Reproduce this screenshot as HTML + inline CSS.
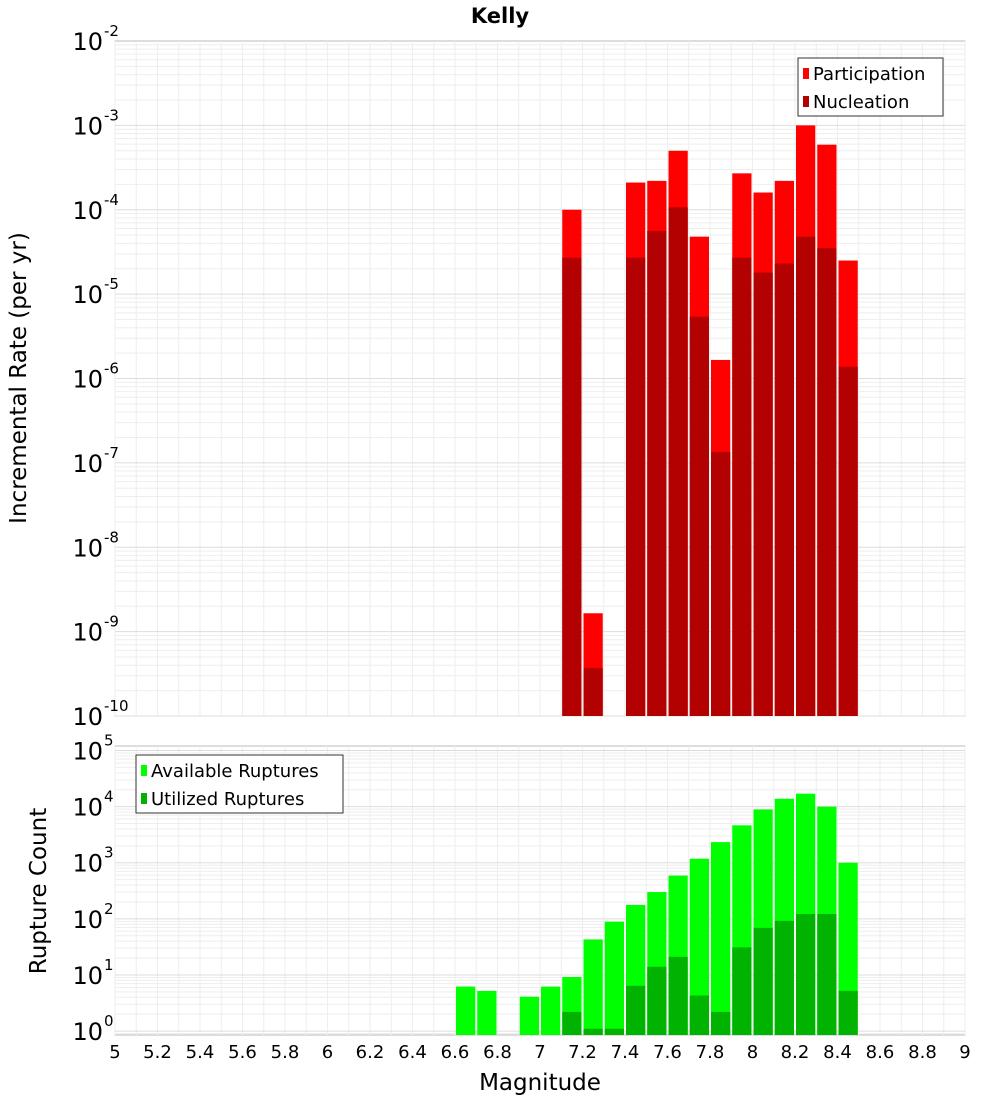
<!DOCTYPE html>
<html><head><meta charset="utf-8"><style>
body{margin:0;background:#fff}
svg text{font-family:"DejaVu Sans","Liberation Sans",sans-serif}
</style></head><body>
<svg id="chart" width="1000" height="1100" xmlns="http://www.w3.org/2000/svg">
<text x="500" y="23" text-anchor="middle" font-size="21" font-weight="bold">Kelly</text>
<g id="topPanel"></g><g id="botPanel"></g>
</svg>
<script>
const bins=[7.15,7.25,7.45,7.55,7.65,7.75,7.85,7.95,8.05,8.15,8.25,8.35,8.45];
const participation=[1.0e-4,1.65e-9,2.1e-4,2.2e-4,5e-4,4.8e-5,1.66e-6,2.7e-4,1.6e-4,2.2e-4,1e-3,5.9e-4,2.5e-5];
const nucleation=[2.7e-5,3.7e-10,2.7e-5,5.6e-5,1.07e-4,5.4e-6,1.35e-7,2.7e-5,1.8e-5,2.3e-5,4.8e-5,3.5e-5,1.38e-6];
const binsB=[6.65,6.75,6.95,7.05,7.15,7.25,7.35,7.45,7.55,7.65,7.75,7.85,7.95,8.05,8.15,8.25,8.35,8.45];
const available=[6.2,5.2,4.1,6.2,9.2,43,89,177,300,590,1180,2330,4640,8900,13800,17000,10000,1000];
const utilized=[0,0,0,0,2.2,1.1,1.1,6.4,14,21,4.3,2.2,31,69,92,122,122,5.2];
const xTicks=[5,5.2,5.4,5.6,5.8,6,6.2,6.4,6.6,6.8,7,7.2,7.4,7.6,7.8,8,8.2,8.4,8.6,8.8,9];

const NS="http://www.w3.org/2000/svg";
function mk(p,t,a){const e=document.createElementNS(NS,t);for(const k in a)e.setAttribute(k,a[k]);p.appendChild(e);return e;}
const X0=115,X1=965;
const xs=v=>X0+(v-5)/4*(X1-X0);
function panel(g,y0,y1,lmin,lmax,name){
  const ys=v=>y1-(Math.log10(v)-lmin)/(lmax-lmin)*(y1-y0);
  const bg=mk(g,'rect',{x:X0,y:y0,width:X1-X0,height:y1-y0,fill:'#fff',stroke:'#bbb'});
  
  
  for(let v=5;v<=9.001;v+=0.1){const x=xs(v);mk(g,'line',{x1:x,x2:x,y1:y0,y2:y1,stroke:'#eee','stroke-width':1});}
  for(let d=Math.floor(lmin);d<Math.ceil(lmax);d++)for(let m=1;m<10;m++){
    const v=m*Math.pow(10,d);const lv=Math.log10(v);if(lv<lmin||lv>lmax)continue;
    const y=ys(v);mk(g,'line',{x1:X0,x2:X1,y1:y,y2:y,stroke:m==1?'#ddd':'#eee','stroke-width':1});}
  for(let d=Math.ceil(lmin);d<=Math.floor(lmax);d++){
    const y=ys(Math.pow(10,d));
    const t=mk(g,'text',{x:X0-12,y:y+9,'text-anchor':'end','font-size':24});
    
    
    t.textContent='10';
    const s=mk(g,'text',{x:X0-11,y:y-5,'font-size':15});
    
    
    s.textContent=String(d);
  }
  return ys;
}
function bar(g,c,v,ys,y1,col,nm){
  if(!(v>0))return;
  const x=xs(c-0.05)+1,w=xs(c+0.05)-xs(c-0.05)-2;const y=Math.max(ys(v),0);
  const r=mk(g,'rect',{x:x,y:y,width:w,height:y1-y,fill:col});
  
  
}
const gTop=document.getElementById('topPanel'),gBot=document.getElementById('botPanel');
const ysT=panel(gTop,41,716,-10,-2,'rate');
bins.forEach((c,i)=>bar(gTop,c,participation[i],ysT,716,'#ff0000','participation-bar'));
bins.forEach((c,i)=>bar(gTop,c,nucleation[i],ysT,716,'#b30000','nucleation-bar'));
const ysB=panel(gBot,746,1035,-0.07,5.08,'count');
binsB.forEach((c,i)=>bar(gBot,c,available[i],ysB,1035,'#00ff00','available-bar'));
binsB.forEach((c,i)=>bar(gBot,c,utilized[i],ysB,1035,'#00b300','utilized-bar'));
xTicks.forEach(v=>{const t=mk(gBot,'text',{x:xs(v),y:1058,'text-anchor':'middle','font-size':18});
  
  
  t.textContent=String(v);});
function legend(g,x,y,w,items,nm){
  const b=mk(g,'rect',{x:x,y:y,width:w,height:58,fill:'#fff',stroke:'#333'});
  
  
  items.forEach((it,i)=>{const yy=y+19+i*28;
    mk(g,'rect',{x:x+5,y:yy-9,width:6,height:11,fill:it[1]});
    const t=mk(g,'text',{x:x+15,y:yy+3,'font-size':18});
    
    
    t.textContent=it[0];});
}
legend(gTop,798,58,145,[['Participation','#ff0000'],['Nucleation','#b30000']],'rate-legend');
legend(gBot,136,755,207,[['Available Ruptures','#00ff00'],['Utilized Ruptures','#00b300']],'count-legend');
const yt=mk(gTop,'text',{x:0,y:0,'font-size':23,'text-anchor':'middle',transform:'translate(26,378) rotate(-90)'});


yt.textContent='Incremental Rate (per yr)';
const yb=mk(gBot,'text',{x:0,y:0,'font-size':23,'text-anchor':'middle',transform:'translate(46,891) rotate(-90)'});


yb.textContent='Rupture Count';
const xt=mk(gBot,'text',{x:540,y:1090,'font-size':23,'text-anchor':'middle'});


xt.textContent='Magnitude';
</script>
</body></html>
